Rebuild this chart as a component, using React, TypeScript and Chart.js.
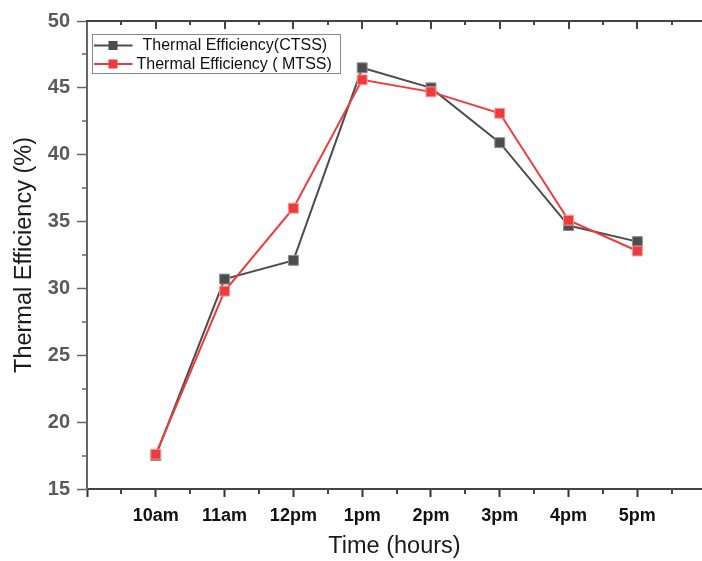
import React, { useEffect, useRef } from "react";
import { Chart, registerables } from "chart.js";

Chart.register(...registerables);

const categories = ["10am", "11am", "12pm", "1pm", "2pm", "3pm", "4pm", "5pm"];
const ctssValues = [17.5, 30.7, 32.1, 46.5, 45.0, 40.9, 34.7, 33.5];
const mtssValues = [17.6, 29.8, 36.0, 45.6, 44.7, 43.1, 35.1, 32.8];
const ctssLabel = "Thermal Efficiency(CTSS)";
const mtssLabel = "Thermal Efficiency ( MTSS)";
const yMin = 15;
const yMax = 50;
const yStep = 5;

const GRAY = "#4d4d4d";
const RED = "#ef3b3b";
const FONT = "Arial, 'Liberation Sans', Helvetica, sans-serif";

const axisDeco = {
  id: "axisDeco",
  afterDraw(chart: any) {
    const { ctx, chartArea: a, scales } = chart;
    const x = scales.x;
    const y = scales.y;
    ctx.save();
    ctx.strokeStyle = "#444";
    ctx.lineWidth = 2;
    ctx.beginPath();
    ctx.moveTo(a.left - 1, a.top);
    ctx.lineTo(a.right, a.top);
    ctx.stroke();
    ctx.beginPath();
    for (let v = 0; v <= x.max + 1e-9; v += 0.5) {
      const px = Math.round(x.getPixelForValue(v));
      const major = Math.abs(v - Math.round(v)) < 1e-6;
      if (v > 0) {
        ctx.moveTo(px, a.top);
        ctx.lineTo(px, a.top + (major ? 8 : 4));
      }
      if (!major) {
        ctx.moveTo(px, a.bottom);
        ctx.lineTo(px, a.bottom + 5);
      }
    }
    ctx.stroke();
    ctx.strokeStyle = "#666";
    ctx.lineWidth = 1.5;
    ctx.beginPath();
    for (let v = y.min + yStep / 2; v < y.max; v += yStep) {
      const py = Math.round(y.getPixelForValue(v));
      ctx.moveTo(a.left, py);
      ctx.lineTo(a.left - 5, py);
    }
    ctx.stroke();
    ctx.restore();
  },
};

const legendBox = {
  id: "legendBox",
  afterDraw(chart: any) {
    const { ctx, chartArea: a } = chart;
    const bx = a.left + 5.5;
    const by = a.top + 13.5;
    ctx.save();
    ctx.fillStyle = "#fff";
    ctx.fillRect(bx, by, 248, 39);
    ctx.strokeStyle = "#8a8a8a";
    ctx.lineWidth = 1;
    ctx.strokeRect(bx, by, 248, 39);
    const rows = [
      { dy: 11, tx: 50 },
      { dy: 29.5, tx: 44 },
    ];
    chart.data.datasets.forEach((ds: any, i: number) => {
      const r = rows[i];
      const cy = by + r.dy;
      ctx.strokeStyle = ds.borderColor;
      ctx.lineWidth = 2;
      ctx.beginPath();
      ctx.moveTo(bx + 1.5, cy);
      ctx.lineTo(bx + 40, cy);
      ctx.stroke();
      ctx.fillStyle = ds.pointBackgroundColor;
      ctx.fillRect(bx + 16, cy - 4.5, 9, 9);
      ctx.fillStyle = "#111";
      ctx.font = `16px ${FONT}`;
      ctx.textBaseline = "middle";
      ctx.textAlign = "left";
      ctx.fillText(ds.label, bx + r.tx, cy + 0.5);
    });
    ctx.restore();
  },
};

export default function App() {
  const ref = useRef<HTMLCanvasElement | null>(null);

  useEffect(() => {
    if (!ref.current) return;
    const chart = new Chart(ref.current, {
      type: "line",
      data: {
        datasets: [
          {
            label: ctssLabel,
            data: ctssValues.map((v, i) => ({ x: i + 1, y: v })),
            borderColor: GRAY,
            backgroundColor: GRAY,
            pointBackgroundColor: GRAY,
            pointBorderColor: "#8c8c8c",
            pointBorderWidth: 1,
            pointStyle: "rect",
            pointRadius: 7,
            borderWidth: 2,
            tension: 0,
            order: 1,
          },
          {
            label: mtssLabel,
            data: mtssValues.map((v, i) => ({ x: i + 1, y: v })),
            borderColor: RED,
            backgroundColor: RED,
            pointBackgroundColor: RED,
            pointBorderColor: "#f59a9a",
            pointBorderWidth: 1,
            pointStyle: "rect",
            pointRadius: 7,
            borderWidth: 2,
            tension: 0,
            order: 0,
          },
        ],
      },
      options: {
        animation: false,
        responsive: false,
        devicePixelRatio: 1,
        layout: { autoPadding: false, padding: { top: 21, right: 0, bottom: 0, left: 0 } },
        plugins: {
          legend: { display: false },
          tooltip: { enabled: false },
        },
        scales: {
          x: {
            type: "linear",
            min: 0,
            max: 8.94,
            afterFit: (s: any) => {
              s.height = 72;
              s.paddingLeft = 0;
              s.paddingRight = 0;
            },
            border: { display: true, color: "#444", width: 2 },
            grid: {
              display: true,
              drawOnChartArea: false,
              drawTicks: true,
              tickLength: 8,
              tickColor: "#333",
              tickWidth: 2,
            },
            ticks: {
              stepSize: 1,
              autoSkip: false,
              maxRotation: 0,
              includeBounds: false,
              padding: 8,
              color: "#111",
              font: { family: FONT, size: 18, weight: "bold" },
              callback: (v: any) => categories[Number(v) - 1] ?? "",
            },
            title: {
              display: true,
              text: "Time (hours)",
              color: "#1a1a1a",
              font: { family: FONT, size: 23.5, weight: "normal" },
              padding: { top: 0, bottom: 0 },
            },
          },
          y: {
            min: yMin,
            max: yMax,
            afterFit: (s: any) => {
              s.width = 87;
            },
            border: { display: true, color: "#666", width: 2 },
            grid: {
              display: true,
              drawOnChartArea: false,
              drawTicks: true,
              tickLength: 10,
              tickColor: "#666",
              tickWidth: 1.5,
            },
            ticks: {
              stepSize: yStep,
              padding: 7,
              color: "#5a5a5a",
              font: { family: FONT, size: 20, weight: "bold" },
            },
            title: {
              display: true,
              text: "Thermal Efficiency (%)",
              color: "#1a1a1a",
              font: { family: FONT, size: 23.5, weight: "normal" },
              padding: { top: 10, bottom: 0 },
            },
          },
        },
      },
      plugins: [axisDeco, legendBox],
    });
    return () => chart.destroy();
  }, []);

  return (
    <div style={{ position: "absolute", left: 0, top: 0, width: 702, height: 561, background: "#fff" }}>
      <canvas ref={ref} width={702} height={561} style={{ display: "block" }} />
    </div>
  );
}
